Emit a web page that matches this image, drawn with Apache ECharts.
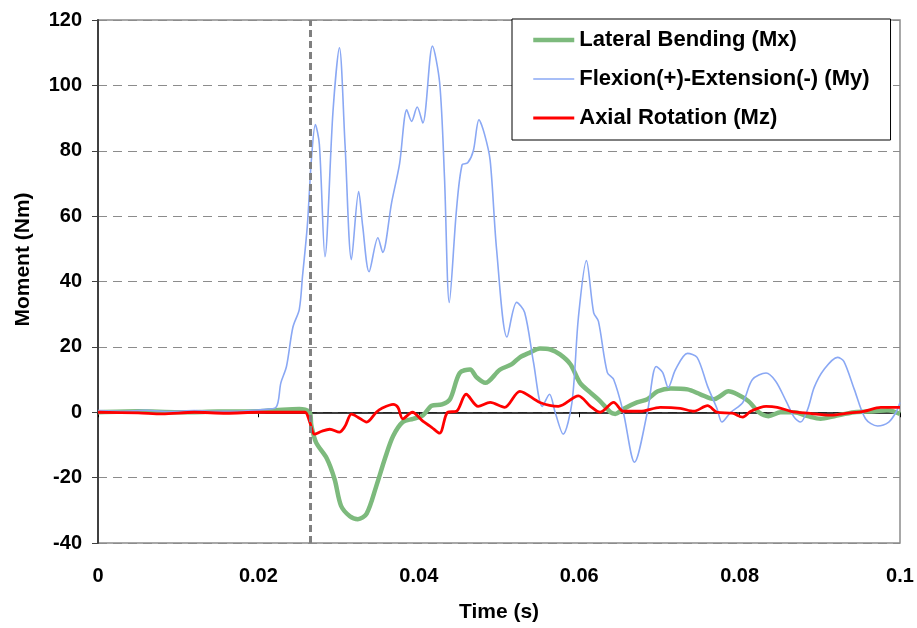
<!DOCTYPE html>
<html>
<head>
<meta charset="utf-8">
<script src="https://cdn.jsdelivr.net/npm/echarts@6/dist/echarts.min.js"></script>
<style>html,body{margin:0;padding:0;background:#fff}#chart{width:917px;height:628px}</style>
</head>
<body>
<div id="chart"></div>
<script>
// Lateral Bending (Mx)
var mxTime = [0, 0.005, 0.01, 0.015, 0.02, 0.023, 0.0251, 0.0264, 0.0266, 0.0272, 0.0285, 0.0295, 0.0303, 0.0314, 0.0324, 0.0335, 0.0347, 0.0358, 0.0368, 0.038, 0.0393, 0.0405, 0.0416, 0.0429, 0.0439, 0.0451, 0.0464, 0.0472, 0.0483, 0.0501, 0.0516, 0.0526, 0.0539, 0.0551, 0.0564, 0.0576, 0.0589, 0.0601, 0.0614, 0.0626, 0.0639, 0.0645, 0.0655, 0.0672, 0.0685, 0.0698, 0.0714, 0.0735, 0.0751, 0.0768, 0.0776, 0.0786, 0.0797, 0.0811, 0.0824, 0.0836, 0.0851, 0.0868, 0.0885, 0.0901, 0.0918, 0.0943, 0.0968, 0.0985, 0.1];
var mxValue = [0, 0.3, 0, 0.2, 0.3, 0.8, 1, 0, -4, -9.3, -14, -20.5, -28.6, -31.8, -32.7, -31, -22.6, -14, -7.3, -3, -2, -1, 2, 2.4, 4, 12, 13.1, 10.7, 9, 13, 14.7, 16.8, 18.3, 19.5, 19.2, 17.7, 14.7, 9, 6, 3.4, 0, -0.5, 1, 3, 4, 6.4, 7.3, 7, 5.5, 4, 5, 6.4, 5.5, 3.4, 0, -1.2, 0, 0, -1.2, -2, -1.2, 0, 0.3, 0.6, -0.5];

// Flexion(+)-Extension(-) (My)
var myTime = [0, 0.003, 0.006, 0.009, 0.012, 0.015, 0.018, 0.0205, 0.0222, 0.0228, 0.0235, 0.0243, 0.0251, 0.0255, 0.0261, 0.0266, 0.0271, 0.0276, 0.0283, 0.0293, 0.0301, 0.0308, 0.0316, 0.0325, 0.033, 0.0338, 0.0349, 0.0355, 0.0366, 0.0376, 0.0385, 0.0391, 0.0398, 0.0405, 0.0417, 0.0426, 0.0432, 0.0438, 0.0447, 0.0454, 0.0461, 0.0468, 0.0475, 0.0482, 0.0489, 0.0497, 0.051, 0.0522, 0.0532, 0.0543, 0.0554, 0.0563, 0.057, 0.058, 0.0591, 0.0599, 0.0609, 0.0618, 0.0624, 0.0635, 0.0643, 0.0655, 0.0669, 0.0685, 0.0696, 0.0704, 0.0711, 0.072, 0.0735, 0.0747, 0.076, 0.0772, 0.0778, 0.0789, 0.0804, 0.0816, 0.0833, 0.0845, 0.0858, 0.0868, 0.0876, 0.0885, 0.0893, 0.0905, 0.0922, 0.093, 0.0943, 0.0957, 0.0972, 0.0986, 0.0995, 0.1];
var myValue = [0.5, 0.3, 0.6, 0.2, 0.5, 0.3, 0.4, 0.8, 1.5, 9, 14, 26, 31.5, 41.6, 57, 77, 88, 82, 47.6, 92, 111.5, 82, 46.7, 67.5, 57, 43, 53.4, 48.9, 64, 76, 92.5, 89, 93.4, 88.5, 112, 100.8, 72, 33.6, 62, 75.7, 76.3, 80, 89.5, 85, 77, 49.8, 23, 33.6, 30.5, 15.3, 1.8, 5.5, 0, -6.7, 3, 29, 46.4, 30.5, 27.8, 12.2, 10, 0, -15.3, 0, 14, 12.2, 7.6, 13, 18, 16.8, 8, 1, -3, 0, 3, 10, 12, 9.5, 3.4, -1.5, -3, 1, 7.6, 13, 16.8, 15.6, 7, -2, -4.2, -3, 0, 3];

// Axial Rotation (Mz)
var mzTime = [0, 0.005, 0.008, 0.012, 0.016, 0.02, 0.024, 0.0258, 0.0264, 0.027, 0.0279, 0.0289, 0.0301, 0.0308, 0.0316, 0.0324, 0.0335, 0.0347, 0.0354, 0.0368, 0.0374, 0.038, 0.0392, 0.0405, 0.0416, 0.0426, 0.0436, 0.0447, 0.0459, 0.0474, 0.0489, 0.0507, 0.0526, 0.0551, 0.0574, 0.0599, 0.0614, 0.0626, 0.0643, 0.0655, 0.0676, 0.0701, 0.0726, 0.0743, 0.076, 0.0772, 0.0791, 0.0804, 0.0814, 0.0833, 0.0847, 0.0864, 0.0885, 0.0914, 0.0935, 0.0955, 0.0976, 0.1];
var mzValue = [0, -0.2, -0.5, 0, -0.3, 0, 0, 0, -3, -6.7, -5.8, -5.2, -6.1, -4.3, -0.6, -1.5, -3, 0, 1.2, 2.4, 1.5, -2, 0, -2.7, -4.6, -6.4, 0, 0.3, 5.5, 1.8, 3, 1.5, 6.4, 3, 1.8, 5, 1.8, 0, 3, 0.3, 0.3, 1.5, 1.2, 0.3, 2, 0, -0.3, -1.5, 0.3, 1.8, 1.5, 0.3, -0.3, -0.9, -0.3, 0.3, 1.5, 1.5];

var seriesNames = ['Lateral Bending (Mx)', 'Flexion(+)-Extension(-) (My)', 'Axial Rotation (Mz)'];
var impactTime = 0.02646;
var xTicks = {min: 0, max: 0.1, interval: 0.02};
var yTicks = {min: -40, max: 120, interval: 20};

function pairs(t, v) { return t.map(function (x, i) { return [x, v[i]]; }); }

var FONT = '"Liberation Sans", Arial, sans-serif';
var chart = echarts.init(document.getElementById('chart'), null, {renderer: 'canvas'});
chart.setOption({
  animation: false,
  backgroundColor: '#ffffff',
  grid: {left: 98, right: 17, top: 20, bottom: 84, show: true, borderColor: '#8c8c8c', borderWidth: 1.5, backgroundColor: 'transparent'},
  legend: {
    orient: 'vertical', left: 512, top: 19,
    padding: [10, 21, 11, 19], itemGap: 17, itemWidth: 41, itemHeight: 14,
    backgroundColor: '#ffffff', borderColor: '#000000', borderWidth: 1,
    itemStyle: {opacity: 0},
    textStyle: {fontFamily: FONT, fontWeight: 'bold', fontSize: 22, color: '#000', lineHeight: 22},
    data: [
      {name: seriesNames[0], lineStyle: {width: 4.5}},
      {name: seriesNames[1], lineStyle: {width: 1.6}},
      {name: seriesNames[2], lineStyle: {width: 2.8}}
    ]
  },
  xAxis: [{
    type: 'value', min: xTicks.min, max: xTicks.max, interval: xTicks.interval,
    position: 'bottom',
    axisLine: {show: false, onZero: false},
    axisTick: {show: false},
    splitLine: {show: false},
    axisLabel: {fontFamily: FONT, fontWeight: 'bold', fontSize: 20, color: '#000', margin: 23},
    name: 'Time (s)', nameLocation: 'middle', nameGap: 59,
    nameTextStyle: {fontFamily: FONT, fontWeight: 'bold', fontSize: 21, color: '#000'}
  }, {
    type: 'value', min: xTicks.min, max: xTicks.max, interval: xTicks.interval,
    position: 'top',
    axisLine: {show: true, onZero: true, lineStyle: {color: '#000', width: 1.5}},
    axisTick: {show: true, inside: true, length: 5, lineStyle: {color: '#000', width: 1}},
    axisLabel: {show: false},
    splitLine: {show: false}
  }],
  yAxis: {
    type: 'value', min: yTicks.min, max: yTicks.max, interval: yTicks.interval,
    axisLine: {show: true, onZero: false, lineStyle: {color: '#404040', width: 2}},
    axisTick: {show: true, length: 6, lineStyle: {color: '#404040', width: 1}},
    axisLabel: {fontFamily: FONT, fontWeight: 'bold', fontSize: 20, color: '#000', margin: 16},
    splitLine: {show: true, lineStyle: {color: '#8c8c8c', width: 1.2, type: [9, 6]}},
    name: 'Moment (Nm)', nameLocation: 'middle', nameGap: 64,
    nameTextStyle: {fontFamily: FONT, fontWeight: 'bold', fontSize: 21, color: '#000', padding: [0, 0, 0, 44]}
  },
  series: [{
    name: seriesNames[0], type: 'line', symbol: 'none', smooth: 0.3,
    data: pairs(mxTime, mxValue),
    lineStyle: {color: '#7dba7d', width: 4.5}, itemStyle: {color: '#7dba7d'},
    markLine: {
      silent: true, symbol: 'none', label: {show: false}, precision: 5,
      lineStyle: {color: '#808080', width: 3, type: [7, 4]},
      data: [[{coord: [impactTime, yTicks.min]}, {coord: [impactTime, yTicks.max]}]]
    }
  }, {
    name: seriesNames[1], type: 'line', symbol: 'none', smooth: 0.3,
    data: pairs(myTime, myValue),
    lineStyle: {color: '#8aa8f4', width: 1.6}, itemStyle: {color: '#8aa8f4'}
  }, {
    name: seriesNames[2], type: 'line', symbol: 'none', smooth: 0.3,
    data: pairs(mzTime, mzValue),
    lineStyle: {color: '#ff0000', width: 2.8}, itemStyle: {color: '#ff0000'}
  }]
});
</script>
</body>
</html>
